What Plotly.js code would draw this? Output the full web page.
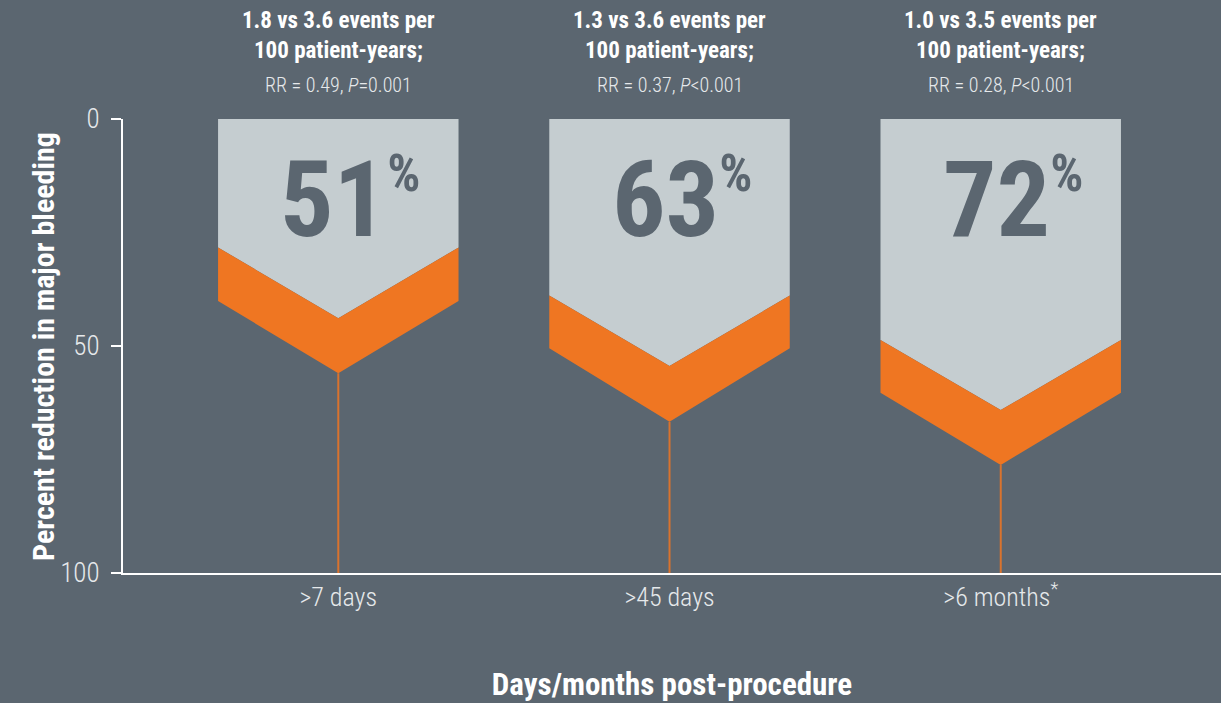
<!DOCTYPE html>
<html><head><meta charset="utf-8">
<script src="https://cdn.plot.ly/plotly-3.0.1.min.js"></script>
<style>html,body{margin:0;padding:0;background:#5b6670;}</style>
</head><body>
<div id="chart" style="width:1221px;height:703px;"></div>
<script>
// ---- data ----
const categories = [">7 days", ">45 days", ">6 months<sup>*</sup>"];
const reduction = [51, 63, 72];               // % reduction shown in each arrow
const grayEdge = [28.3, 38.9, 48.7];          // bottom of grey panel at the sides
const grayTip = [43.9, 54.4, 64.1];           // bottom of grey panel at the tip
const orangeEdge = [40.1, 50.5, 60.3];        // bottom of orange band at the sides
const orangeTip = [56.0, 66.7, 76.2];         // bottom of orange band at the tip
const eventLine1 = ["1.8 vs 3.6 events per", "1.3 vs 3.6 events per", "1.0 vs 3.5 events per"];
const eventLine2 = ["100 patient-years;", "100 patient-years;", "100 patient-years;"];
const rrValues = ["0.49", "0.37", "0.28"];
const pValues = ["=0.001", "<0.001", "<0.001"];
const yTicks = [0, 50, 100];

// ---- style ----
const BG = "#5b6670", GREY = "#c5cdd0", ORANGE = "#ef7622", LINEOR = "#d9732e";
const FONT = "Roboto Condensed, Roboto, sans-serif";
const HW = 0.363;

const traces = [];
categories.forEach((c, i) => {
  traces.push({
    type: "scatter", mode: "lines", fill: "toself", fillcolor: GREY,
    line: {width: 0, color: GREY}, hoverinfo: "skip", showlegend: false,
    x: [i - HW, i + HW, i + HW, i, i - HW, i - HW],
    y: [0, 0, grayEdge[i], grayTip[i], grayEdge[i], 0]
  });
  traces.push({
    type: "scatter", mode: "lines", fill: "toself", fillcolor: ORANGE,
    line: {width: 0, color: ORANGE}, hoverinfo: "skip", showlegend: false,
    x: [i - HW, i, i + HW, i + HW, i, i - HW, i - HW],
    y: [grayEdge[i], grayTip[i], grayEdge[i], orangeEdge[i], orangeTip[i], orangeEdge[i], grayEdge[i]]
  });
  traces.push({
    type: "scatter", mode: "lines", line: {width: 2, color: LINEOR},
    hoverinfo: "skip", showlegend: false,
    x: [i, i], y: [orangeTip[i], yTicks[yTicks.length - 1]]
  });
});

const annotations = [];
categories.forEach((c, i) => {
  annotations.push({
    xref: "x", yref: "y", x: i, y: 0, xanchor: "center", yanchor: "middle",
    xshift: 12, yshift: -81, showarrow: false,
    text: String(reduction[i]) + '<sup><span style="font-size:52px">%</span></sup>',
    font: {family: FONT, size: 106, weight: 700, color: BG}
  });
  annotations.push({
    xref: "x", yref: "paper", x: i, y: 1.185, xanchor: "center", yanchor: "middle",
    showarrow: false,
    text: "<b>" + eventLine1[i] + "</b><br><b>" + eventLine2[i] + "</b>",
    font: {family: FONT, size: 23, color: "#ffffff"}
  });
  annotations.push({
    xref: "x", yref: "paper", x: i, y: 1.075, xanchor: "center", yanchor: "middle",
    showarrow: false,
    text: "RR = " + rrValues[i] + ", <i>P</i>" + pValues[i],
    font: {family: FONT, size: 20, weight: 300, color: "#e6e9eb"}
  });
});
annotations.push({
  xref: "paper", yref: "paper", x: -0.0729, y: 0.5, xanchor: "center", yanchor: "middle",
  textangle: -90, showarrow: false,
  text: "<b>Percent reduction in major bleeding</b>",
  font: {family: FONT, size: 30, color: "#ffffff"}
});

const layout = {
  width: 1221, height: 703,
  margin: {l: 123, r: 0, t: 119, b: 130},
  paper_bgcolor: BG, plot_bgcolor: BG,
  showlegend: false,
  xaxis: {
    range: [-0.65, 2.665], tickvals: categories.map((c, i) => i), ticktext: categories,
    showgrid: false, zeroline: false, showline: true, linecolor: "#ffffff", linewidth: 2,
    ticks: "", fixedrange: true,
    tickfont: {family: FONT, size: 26, weight: 300, color: "#e6e9eb"},
    title: {text: "<b>Days/months post-procedure</b>", standoff: 62,
            font: {family: FONT, size: 31, color: "#ffffff"}}
  },
  yaxis: {
    range: [100, 0], tickvals: yTicks, ticktext: yTicks.map(String),
    showgrid: false, zeroline: false, showline: true, linecolor: "#ffffff", linewidth: 2,
    ticks: "outside", ticklen: 10, tickwidth: 2, tickcolor: "#ffffff", fixedrange: true,
    ticklabelstandoff: 6,
    tickfont: {family: FONT, size: 27, weight: 300, color: "#e6e9eb"}
  },
  annotations: annotations
};

Plotly.newPlot("chart", traces, layout, {displayModeBar: false, staticPlot: true});
</script>
</body></html>
